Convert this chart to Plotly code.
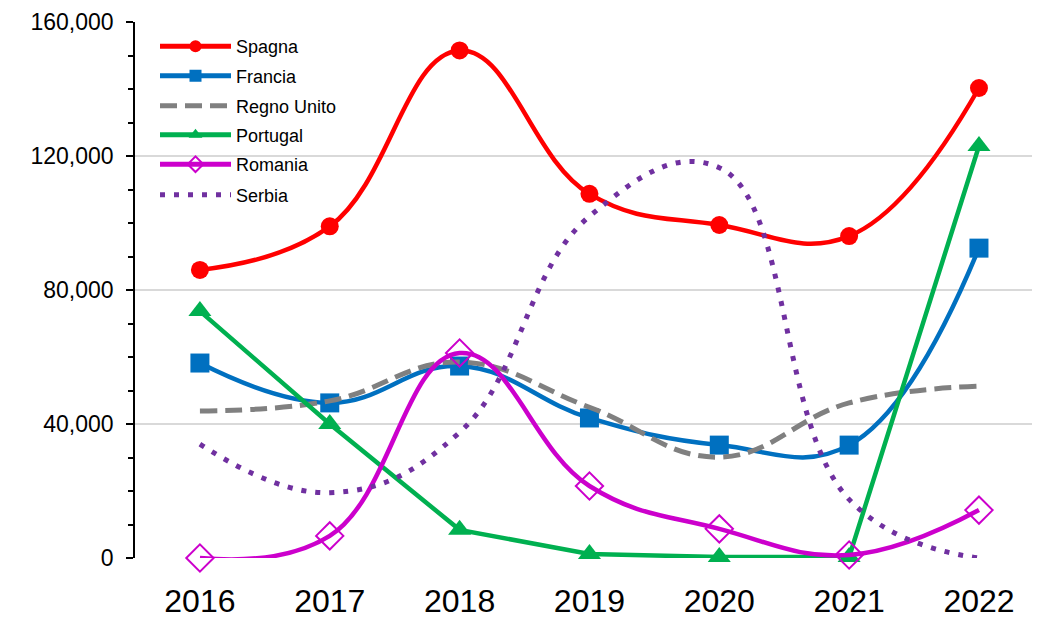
import plotly.graph_objects as go

years = ["2016", "2017", "2018", "2019", "2020", "2021", "2022"]
spagna = [86000, 99000, 151500, 108700, 99400, 96100, 140300]
francia = [58200, 46300, 57300, 41800, 33700, 33700, 92500]
regno_unito = [43900, 46900, 58500, 45000, 30100, 46300, 51300]
portugal = [73700, 40000, 8400, 1200, 300, 300, 123000]
romania = [0, 6600, 61200, 21500, 8700, 900, 14300]
serbia = [34000, 19500, 37500, 102000, 116500, 17500, 0]

y_ticks = [0, 40000, 80000, 120000, 160000]

series = [
    dict(name="Spagna", y=spagna, color="#FF0000", shape="spline", dash="solid", width=4.5,
         marker=dict(symbol="circle", size=18, color="#FF0000"), mode="lines+markers"),
    dict(name="Francia", y=francia, color="#0070C0", shape="spline", dash="solid", width=4.5,
         marker=dict(symbol="square", size=19, color="#0070C0"), mode="lines+markers"),
    dict(name="Regno Unito", y=regno_unito, color="#808080", shape="spline", dash="17px,8px", width=5,
         marker=None, mode="lines"),
    dict(name="Portugal", y=portugal, color="#00B050", shape="linear", dash="solid", width=4.5,
         marker=dict(symbol="triangle-up", size=20, color="#00B050"), mode="lines+markers"),
    dict(name="Romania", y=romania, color="#CC00CC", shape="spline", dash="solid", width=4.5,
         marker=dict(symbol="diamond-open", size=21, color="#CC00CC", line=dict(width=2, color="#CC00CC")),
         mode="lines+markers"),
    dict(name="Serbia", y=serbia, color="#7030A0", shape="spline", dash="5px,9px", width=5,
         marker=None, mode="lines"),
]

W, H = 1032, 611
legend_centers = [38.5, 68, 98, 127, 156.5, 187]

fig = go.Figure()
layout_legends = {}
for i, s in enumerate(series):
    lname = "legend" if i == 0 else f"legend{i+1}"
    kw = dict(
        x=years, y=s["y"], name=s["name"], mode=s["mode"],
        line=dict(color=s["color"], width=s["width"], dash=s["dash"], shape=s["shape"], smoothing=1.2),
        cliponaxis=False, legend=lname,
    )
    if s["marker"] is not None:
        kw["marker"] = s["marker"]
    fig.add_trace(go.Scatter(**kw))
    layout_legends[lname] = dict(
        x=147 / W, xref="container", xanchor="left",
        y=1 - legend_centers[i] / H, yref="container", yanchor="middle",
        bgcolor="rgba(0,0,0,0)", borderwidth=0,
        font=dict(family="Liberation Sans, Arial, sans-serif", size=18, color="#000000"),
        itemwidth=71, itemsizing="constant",
    )

fig.update_layout(
    width=W, height=H,
    margin=dict(l=127, r=0, t=14, b=61, autoexpand=False),
    paper_bgcolor="white", plot_bgcolor="white",
    showlegend=True,
    **layout_legends,
)

fig.update_xaxes(
    type="category", range=[-0.5, 6.47],
    showgrid=False, showline=False, zeroline=False, ticks="",
    tickfont=dict(family="Liberation Sans, Arial, sans-serif", size=32, color="#000000"),
    ticklabelstandoff=21,
)

fig.update_yaxes(
    range=[0, 160000], tickvals=y_ticks, tickformat=",",
    showgrid=True, gridcolor="#D9D9D9", gridwidth=1.5,
    showline=True, linecolor="#000000", linewidth=1.5,
    zeroline=False,
    ticks="outside", ticklen=7, tickcolor="#000000", tickwidth=1.5,
    minor=dict(dtick=10000, ticks="outside", ticklen=5, tickcolor="#000000", tickwidth=1.5, showgrid=False),
    tickfont=dict(family="Liberation Sans, Arial, sans-serif", size=23, color="#000000"),
    ticklabelstandoff=8,
)

fig.write_html("out.html")
